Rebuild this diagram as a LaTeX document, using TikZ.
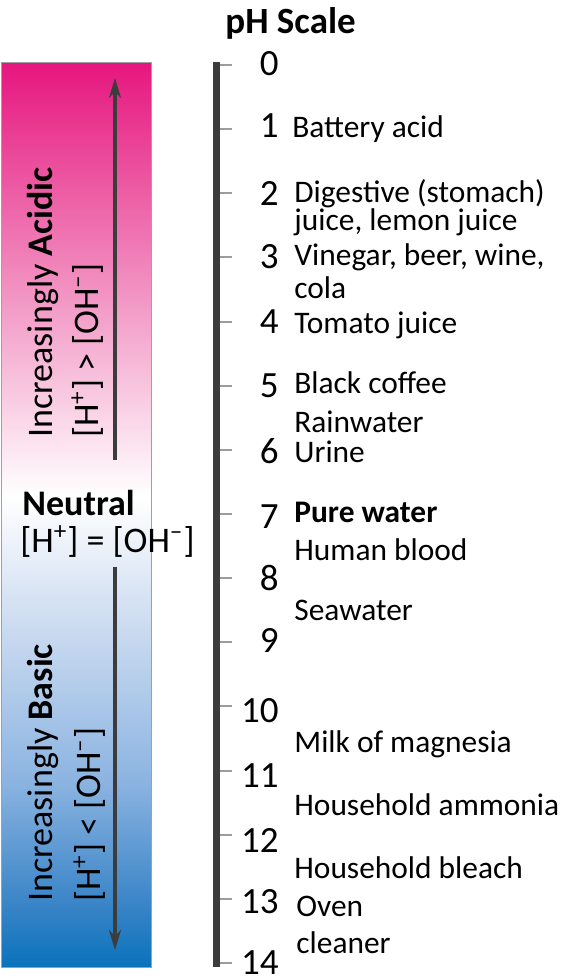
\documentclass[tikz,border=0pt]{standalone}
\usepackage{fontspec}
\setmainfont{Carlito}
\usepackage{xcolor}
\usepackage{tikz}
\usetikzlibrary{arrows.meta}
\definecolor{Ink}{HTML}{3C3C3C}
\definecolor{Tick}{HTML}{9C9C9C}
\definecolor{Edge}{HTML}{A0A0A0}
\definecolor{AcidTop}{RGB}{230,22,126}
\definecolor{AcidMid}{RGB}{242,150,196}
\definecolor{NeutralW}{RGB}{255,255,255}
\definecolor{BaseLight}{RGB}{206,221,241}
\definecolor{BaseMid}{RGB}{140,180,225}
\definecolor{BaseDeep}{RGB}{60,134,200}
\definecolor{BaseBot}{RGB}{10,114,187}
\pgfdeclareverticalshading{phbar}{100bp}{color(0bp)=(BaseBot); color(25bp)=(BaseBot); color(28.7bp)=(BaseDeep); color(35.3bp)=(BaseMid); color(44.2bp)=(BaseLight); color(51bp)=(NeutralW); color(62bp)=(AcidMid); color(75bp)=(AcidTop); color(100bp)=(AcidTop)}

\begin{document}
\begin{tikzpicture}[x=0.5pt,y=-0.5pt,
  num/.style={anchor=base east,inner sep=0pt,font=\fontsize{18.5}{20}\selectfont},
  item/.style={anchor=base west,inner sep=0pt,align=left,font=\fontsize{15.7}{14}\selectfont},
  side/.style={anchor=base west,inner sep=0pt,font=\fontsize{18}{20}\selectfont},
  trend/.style={-{Stealth[length=10pt,width=6pt]},Ink,line width=1.7pt}
]
\useasboundingbox (0,0) rectangle (576,980);
% gradient band
\shade[shading=phbar,draw=Edge,line width=0.5pt] (1,62) rectangle (151,967);
\node[side,rotate=90] (acid) at (53,438) {Increasingly \textbf{Acidic}};
\node[side,rotate=90] (acidrel) at (98,438) {[H\textsuperscript{+}] > [OH\textsuperscript{--}]};
\node[side,font=\fontsize{18}{20}\selectfont\bfseries] (neutral) at (22,515) {Neutral};
\node[side] (neutralrel) at (20,552) {[H\textsuperscript{+}] = [OH\textsuperscript{--}]};
\node[side,rotate=90] (basic) at (53,902) {Increasingly \textbf{Basic}};
\node[side,rotate=90] (basicrel) at (100,902) {[H\textsuperscript{+}] < [OH\textsuperscript{--}]};
\coordinate (up0) at (115,460);
\coordinate (up1) at (115,78);
\coordinate (dn0) at (115,567);
\coordinate (dn1) at (115,950);
\draw[trend] (up0) -- (up1);
\draw[trend] (dn0) -- (dn1);
% scale
\node[anchor=base west,inner sep=0pt,font=\fontsize{18.5}{20}\selectfont\bfseries] (title) at (225,33) {pH Scale};
\coordinate (bartop) at (216.5,62);
\coordinate (barbot) at (216.5,967);
\draw[Ink,line width=3.5pt] (bartop) -- (barbot);
\foreach \k in {0,...,14}{
  \coordinate (t\k) at (220,65+64.14*\k);
  \draw[Tick,line width=1pt] (t\k) -- ++(12,0);
}
\foreach \n/\yb in {0/75,1/137,2/205,3/268,4/333,5/397,6/463,7/528,8/590,9/652,10/722,11/787,12/852,13/913,14/974}
  \node[num] (n\n) at (279,\yb) {\n};
% examples
\node[item] (battery) at (292,137) {Battery acid};
\node[item] (gastric) at (294,230) {Digestive (stomach)\\juice, lemon juice};
\node[item] (vinegar) at (294,298) {Vinegar, beer, wine,\\[2.5pt]cola};
\node[item] (tomato) at (294,333) {Tomato juice};
\node[item] (coffee) at (294,393) {Black coffee};
\node[item] (rain) at (294,432) {Rainwater};
\node[item] (urine) at (294,462) {Urine};
\node[item] (pure) at (294,522) {\textbf{Pure water}};
\node[item] (blood) at (294,560) {Human blood};
\node[item] (sea) at (294,620) {Seawater};
\node[item] (milk) at (294,752) {Milk of magnesia};
\node[item] (ammonia) at (294,815) {Household ammonia};
\node[item] (bleach) at (294,878) {Household bleach};
\node[item] (oven) at (296,953) {Oven\\[4.5pt]cleaner};
\end{tikzpicture}
\end{document}
